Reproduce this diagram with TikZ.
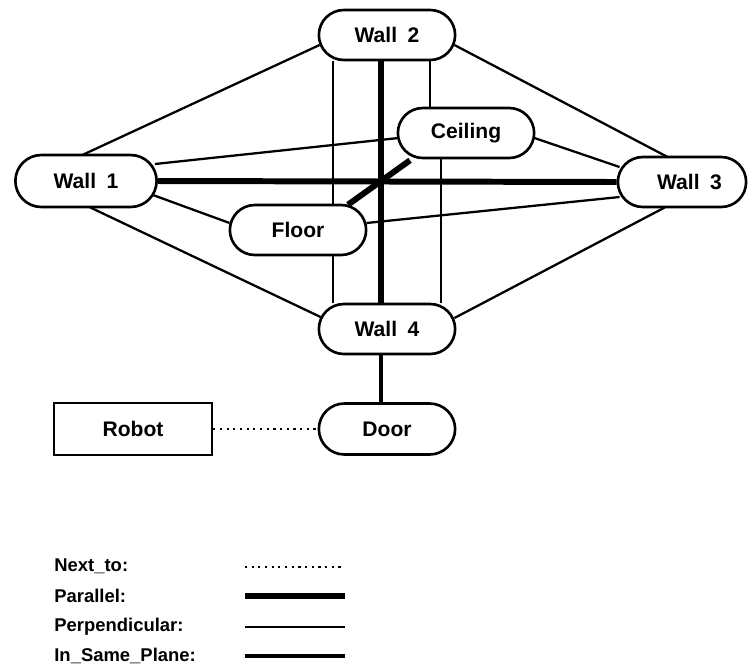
\documentclass[tikz,border=0pt]{standalone}
\usepackage{fontspec}
\setmainfont{Liberation Sans}
\usetikzlibrary{shapes.misc,calc,backgrounds}
\tikzset{
  surface/.style={rounded rectangle, draw, fill=white, line width=1.5pt,
    minimum width=2.96cm, minimum height=1cm,
    font=\fontsize{12}{14}\selectfont\bfseries},
  thing/.style={rectangle, draw, fill=white, line width=1.5pt,
    minimum width=3.16cm, minimum height=1.04cm,
    font=\fontsize{12}{14}\selectfont\bfseries},
  keytext/.style={anchor=west, inner sep=0pt, font=\fontsize{10.5}{12}\selectfont\bfseries},
  perp/.style={line width=1.3pt},
  inplane/.style={line width=2pt},
  parallel/.style={line width=3.4pt},
  nextto/.style={line width=1.4pt, dash pattern=on 1.2pt off 2.6pt},
}
\begin{document}
\begin{tikzpicture}[x=0.02cm,y=-0.02cm]
\useasboundingbox (0,0) rectangle (754,664);
% surfaces of the room
\node[surface] (wall2) at (387,35) {Wall\hspace{0.5em}2};
\node[surface] (ceiling) at (466,133) {Ceiling};
\node[surface, minimum width=3.06cm, minimum height=1.04cm] (wall1) at (86,181) {Wall\hspace{0.5em}1};
\node[surface, minimum width=2.8cm] (wall3) at (682,182) {\hspace{0.3cm}Wall\hspace{0.5em}3};
\node[surface] (floor) at (298,230) {Floor};
\node[surface] (wall4) at (387,329) {Wall\hspace{0.5em}4};
\node[surface, minimum height=1.02cm] (door) at (387,429) {Door};
\node[thing] (robot) at (133,429) {Robot};
% relations
\begin{scope}[on background layer]
\draw[perp] ($(wall1.north)+(-3,1)$) -- ($(wall2.west)+(2,10)$);
\draw[perp] ($(wall2.east)+(-2,10)$) -- ($(wall3.north)+(-15,1)$);
\draw[perp] ($(wall1.south)+(4,-1)$) -- ($(wall4.west)+(3,-12)$);
\draw[perp] ($(wall3.south)+(-17,-1)$) -- ($(wall4.east)+(-2,-11)$);
\draw[perp] ($(wall1.east)+(-3,-17)$) -- ($(ceiling.west)+(2,5)$);
\draw[perp] ($(ceiling.east)+(-1,5)$) -- ($(wall3.west)+(3,-15)$);
\draw[perp] ($(wall1.east)+(-5,14)$) -- ($(floor.west)+(1,-7)$);
\draw[perp] ($(floor.east)+(-1,-7)$) -- ($(wall3.west)+(3,15)$);
\draw[perp] ($(wall2.south)+(-54,0)$) -- ($(floor.north)+(35,0)$);
\draw[perp] ($(floor.south)+(35,0)$) -- ($(wall4.north)+(-54,0)$);
\draw[perp] ($(wall2.south)+(43,0)$) -- ($(ceiling.north)+(-36,0)$);
\draw[perp] ($(ceiling.south)+(-25,0)$) -- ($(wall4.north)+(54,0)$);
\draw[parallel] (wall1.east) -- (wall3.west);
\draw[parallel] ($(wall2.south)+(-6,0)$) -- ($(wall4.north)+(-6,0)$);
\draw[parallel] ($(floor.north)+(50,1)$) -- ($(ceiling.south)+(-56,1)$);
\draw[inplane] ($(wall4.south)+(-6,0)$) -- ($(door.north)+(-6,0)$);
\draw[nextto] (robot.east) -- (door.west);
\end{scope}
% key
\node[keytext] (knext) at (54,566) {Next\_to:};
\node[keytext] (kpar) at (54,596) {Parallel:};
\node[keytext] (kperp) at (54,627) {Perpendicular:};
\node[keytext] (kplane) at (54,656) {In\_Same\_Plane:};
\coordinate (knextA) at (245,567);
\coordinate (knextB) at (345,567);
\coordinate (kparA) at (245,596);
\coordinate (kparB) at (345,596);
\coordinate (kperpA) at (245,627);
\coordinate (kperpB) at (345,627);
\coordinate (kplaneA) at (245,656);
\coordinate (kplaneB) at (345,656);
\draw[nextto] (knextA) -- (knextB);
\draw[parallel] (kparA) -- (kparB);
\draw[perp] (kperpA) -- (kperpB);
\draw[inplane] (kplaneA) -- (kplaneB);
\end{tikzpicture}
\end{document}
